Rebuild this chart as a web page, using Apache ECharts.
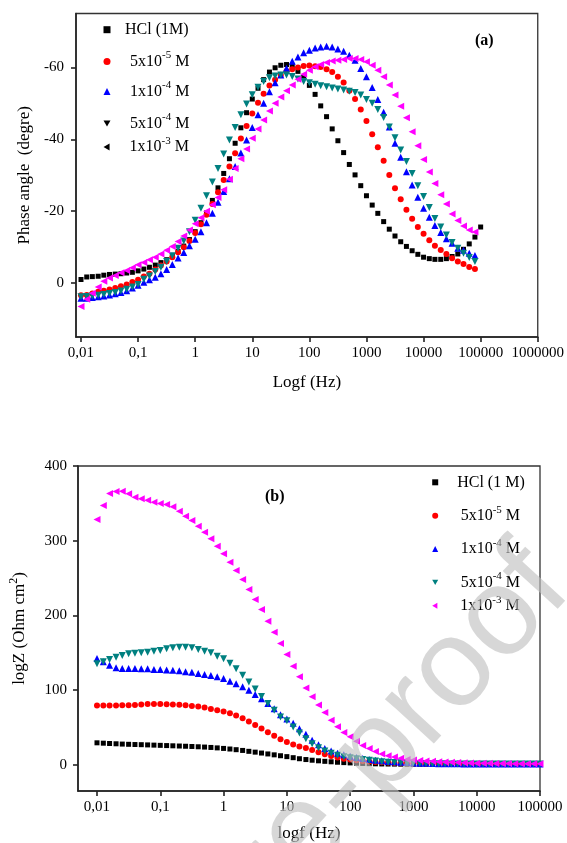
<!DOCTYPE html>
<html>
<head>
<meta charset="utf-8">
<script src="https://cdn.jsdelivr.net/npm/echarts@6/dist/echarts.min.js"></script>
<style>html,body{margin:0;padding:0;background:#fff;}#main{width:567px;height:843px;}</style>
</head>
<body>
<div id="main"></div>
<script>
// Frequencies (Hz), 10 points per decade
const freqHz = [
  0.01, 0.0126, 0.0158, 0.02, 0.0251, 0.0316, 0.0398, 0.0501, 0.0631, 0.0794,
  0.1, 0.126, 0.158, 0.2, 0.251, 0.316, 0.398, 0.501, 0.631, 0.794,
  1, 1.26, 1.58, 2, 2.51, 3.16, 3.98, 5.01, 6.31, 7.94,
  10, 12.6, 15.8, 20, 25.1, 31.6, 39.8, 50.1, 63.1, 79.4,
  100, 126, 158, 200, 251, 316, 398, 501, 631, 794,
  1000, 1260, 1580, 2000, 2510, 3160, 3980, 5010, 6310, 7940,
  10000, 12600, 15800, 20000, 25100, 31600, 39800, 50100, 63100, 79400,
  100000
];
const xTickLabels = ['0,01','0,1','1','10','100','1000','10000','100000','1000000'];
const phaseTicks = [-60, -40, -20, 0];
const zTicks = [0, 100, 200, 300, 400];

const seriesNamesTop = ['HCl (1M)', '5x10-5 M', '1x10-4 M', '5x10-4 M', '1x10-3 M'];
const seriesNamesBot = ['HCl (1 M)', '5x10-5 M', '1x10-4 M', '5x10-4 M', '1x10-3 M'];

// (a) Phase angle (degree)
const phHCl = [-1.0,-1.7,-1.8,-1.9,-2.2,-2.4,-2.5,-2.6,-2.8,-3.0,
  -3.4,-3.9,-4.4,-5.0,-5.7,-6.5,-7.6,-8.8,-10.3,-12.1,
  -14.3,-16.8,-19.5,-23.0,-26.5,-30.5,-34.6,-38.9,-43.2,-47.4,
  -51.2,-54.2,-56.6,-58.7,-59.9,-60.6,-60.8,-60.4,-58.9,-57.2,
  -55.0,-52.5,-49.3,-46.3,-42.9,-39.6,-36.3,-33.0,-30.1,-27.1,
  -24.3,-21.7,-19.4,-17.1,-15.0,-13.1,-11.5,-10.2,-9.0,-8.0,
  -7.2,-6.8,-6.6,-6.6,-6.8,-7.4,-8.1,-9.4,-10.9,-12.8,-15.6];
const ph5e5 = [3.4,3.3,2.9,2.4,2.1,1.8,1.4,0.9,0.4,-0.3,
  -0.9,-1.8,-2.6,-3.8,-4.9,-6.0,-7.2,-8.6,-10.0,-11.7,
  -13.9,-16.4,-19.0,-22.0,-25.3,-28.7,-32.4,-36.1,-40.2,-43.7,
  -47.2,-50.2,-52.7,-55.0,-56.6,-57.9,-58.9,-59.5,-60.0,-60.4,
  -60.5,-60.3,-60.1,-59.5,-58.7,-57.4,-55.8,-53.5,-51.2,-48.3,
  -45.1,-41.4,-37.8,-34.0,-30.1,-26.4,-23.3,-20.4,-17.9,-15.6,
  -13.7,-11.9,-10.4,-9.2,-8.1,-6.9,-6.0,-5.3,-4.5,-3.9];
const ph1e4 = [4.2,4.2,4.0,3.8,3.6,3.3,3.0,2.6,2.1,1.4,
  0.6,-0.2,-0.9,-1.6,-2.6,-3.8,-5.2,-7.0,-8.5,-10.4,
  -12.2,-14.3,-16.8,-19.4,-22.5,-25.5,-29.0,-32.4,-36.2,-39.8,
  -43.3,-46.8,-50.0,-53.2,-55.7,-57.9,-59.8,-61.7,-62.9,-64.1,
  -64.8,-65.4,-65.7,-65.9,-65.7,-65.1,-64.5,-63.4,-62.0,-59.7,
  -57.4,-54.4,-51.1,-47.5,-43.4,-38.9,-35.0,-31.0,-27.3,-23.9,
  -20.8,-18.3,-16.0,-14.1,-12.3,-11.1,-9.7,-9.1,-8.3,-7.7];
const ph5e4 = [3.8,3.7,3.6,3.4,3.2,2.9,2.6,2.2,1.7,1.1,
  0.4,-1.1,-2.0,-3.2,-4.4,-6.0,-7.6,-9.7,-11.7,-14.3,
  -17.5,-20.8,-24.3,-28.1,-31.9,-35.9,-39.8,-43.3,-46.8,-49.8,
  -52.4,-54.5,-56.1,-57.1,-57.6,-57.9,-57.9,-57.5,-56.8,-56.1,
  -55.7,-55.3,-54.9,-54.6,-54.3,-54.0,-53.7,-53.4,-53.0,-52.3,
  -51.1,-50.0,-48.3,-46.1,-43.4,-40.4,-37.0,-33.8,-30.5,-27.1,
  -24.1,-21.0,-18.0,-15.6,-13.4,-11.3,-9.7,-8.3,-7.1,-6.0];
const ph1e3 = [6.5,4.5,2.8,1.1,-0.5,-1.4,-2.1,-2.9,-3.5,-4.3,
  -5.1,-5.7,-6.5,-7.2,-8.1,-9.1,-10.2,-11.6,-13.1,-14.8,
  -16.5,-18.2,-20.0,-21.8,-23.8,-26.0,-28.9,-31.9,-34.6,-37.3,
  -40.3,-42.9,-45.4,-47.9,-50.0,-51.8,-53.5,-55.1,-56.7,-58.1,
  -59.2,-60.2,-60.8,-61.4,-61.8,-62.0,-62.2,-62.5,-62.5,-62.2,
  -61.6,-60.6,-59.2,-57.4,-55.1,-52.3,-49.2,-46.0,-42.1,-38.2,
  -34.4,-30.9,-27.7,-24.6,-22.0,-19.2,-17.4,-15.9,-14.8,-14.2];

// (b) log Z (Ohm cm2)
const zHCl = [29.5,29.0,28.6,28.2,27.8,27.5,27.2,27.0,26.7,26.4,
  26.1,25.8,25.5,25.2,24.9,24.6,24.2,23.8,23.3,22.7,
  22.0,21.2,20.3,19.3,18.1,17.0,15.8,14.6,13.4,12.2,
  11.0,9.6,8.2,7.1,6.2,5.4,4.7,4.1,3.5,3.0,
  2.6,2.2,1.9,1.6,1.4,1.2,1.1,1.0,0.9,0.9,
  0.8,0.8,0.8,0.7,0.7,0.7,0.7,0.6,0.6,0.6,
  0.6,0.6,0.5,0.5,0.5,0.5,0.5,0.5,0.5,0.5,0.5];
const z5e5 = [79.4,79.4,79.4,79.5,79.7,79.8,80.0,80.7,81.4,81.6,
  81.6,81.2,80.7,80.3,79.8,78.9,78.0,76.7,74.9,73.1,
  71.5,69.0,66.0,62.5,58.0,53.5,48.6,43.5,39.0,34.2,
  30.5,27.2,24.5,22.5,19.8,17.0,14.2,11.9,9.9,8.3,
  7.0,6.0,5.2,4.5,3.9,3.4,3.0,2.6,2.3,2.0,
  1.8,1.7,1.6,1.5,1.4,1.3,1.3,1.2,1.2,1.1,
  1.1,1.1,1.0,1.0,1.0,1.0,1.0,1.0,1.0,1.0,1.0];
const z1e4 = [142.3,137.9,133.4,129.8,128.9,128.9,128.9,128.5,128.5,127.6,
  127.6,127.1,126.7,125.8,124.5,124.1,122.2,120.9,119.5,117.8,
  115.5,112.0,108.4,104.4,99.9,94.1,88.4,82.1,75.0,67.0,
  61.5,55.8,48.2,41.0,33.0,27.0,22.0,18.5,15.6,13.4,
  11.4,9.8,8.5,7.3,6.3,5.4,4.6,4.0,3.4,3.0,
  2.6,2.3,2.0,1.8,1.6,1.5,1.4,1.4,1.3,1.3,
  1.2,1.2,1.2,1.1,1.1,1.1,1.1,1.0,1.0,1.0,1.0];
const z5e4 = [135.2,137.9,141.0,144.0,146.3,148.6,149.4,149.9,150.7,152.1,
  153.0,155.3,156.6,157.4,157.4,156.6,154.3,152.1,149.9,145.4,
  142.0,136.0,128.5,120.0,111.0,101.5,91.5,82.0,73.0,64.0,
  59.0,50.5,42.5,35.0,28.3,22.8,18.5,15.5,13.0,11.0,
  9.5,8.2,7.0,6.0,5.0,4.3,3.6,3.1,2.7,2.4,
  2.1,1.9,1.7,1.6,1.5,1.4,1.3,1.3,1.2,1.2,
  1.2,1.1,1.1,1.1,1.1,1.0,1.0,1.0,1.0,1.0,1.0];
const z1e3 = [328.5,347.2,363.2,366.0,366.3,362.8,358.3,356.1,354.2,351.5,
  349.8,348.5,345.4,339.5,332.8,327.0,319.4,311.4,302.5,292.6,
  282.5,271.2,260.1,248.1,234.7,221.3,207.9,192.2,177.5,162.4,
  147.7,132.0,117.8,103.0,91.0,80.0,70.0,59.7,50.9,43.2,
  37.5,31.6,25.8,22.0,18.0,14.5,12.2,10.4,8.7,7.3,
  6.5,5.9,5.3,4.7,4.2,3.8,3.4,3.1,2.8,2.5,
  2.3,2.1,2.0,1.9,1.8,1.7,1.6,1.6,1.5,1.5,1.5];

const colors = ['#000000', '#ff0000', '#0000ff', '#008080', '#ff00ff'];
const TRI_DOWN = 'path://M0,0L2,0L1,1.732Z';
const TRI_LEFT = 'path://M1.732,0L1.732,2L0,1Z';
const symbols = [
  {symbol: 'rect', size: 5},
  {symbol: 'circle', size: 6},
  {symbol: 'triangle', size: 7},
  {symbol: TRI_DOWN, size: 7},
  {symbol: TRI_LEFT, size: 7}
];
const topData = [phHCl, ph5e5, ph1e4, ph5e4, ph1e3];
const botData = [zHCl, z5e5, z1e4, z5e4, z1e3];

const SERIF = '"Liberation Serif", "Times New Roman", serif';
const pairs = (vals) => vals.map((v, i) => [freqHz[i], v]);
const xFmt = (v) => {
  const l = Math.log10(v), e = Math.round(l);
  if (Math.abs(l - e) > 0.01) return '';
  return xTickLabels[e + 2] || '';
};
const supFmt = (name) => name.replace(/10(-\d)/, '10{sup|$1}');
const richSup = {sup: {fontSize: 11, fontFamily: SERIF, color: '#000', padding: [0, 0, 12, 0]}};

const series = [];
topData.forEach((d, i) => series.push({
  type: 'scatter', name: seriesNamesTop[i], xAxisIndex: 0, yAxisIndex: 0,
  data: pairs(d), symbol: symbols[i].symbol, symbolSize: symbols[i].size,
  itemStyle: {color: colors[i], opacity: 1}
}));
botData.forEach((d, i) => series.push({
  type: 'scatter', name: seriesNamesBot[i], xAxisIndex: 1, yAxisIndex: 1,
  data: pairs(d), symbol: symbols[i].symbol, symbolSize: symbols[i].size,
  itemStyle: {color: colors[i], opacity: 1}
}));

// legends
const topLegY = [30.7, 61.5, 91.5, 123.5, 147];
const botLegY = [483.3, 515.7, 549, 582.3, 605.7];
const legends = [];
seriesNamesTop.forEach((n, i) => {
  const item = {name: n, icon: symbols[i].symbol};
  if (i >= 3) item.itemStyle = {color: '#000'};
  legends.push({
    data: [item], left: 103.5, top: topLegY[i] - (i === 0 ? 9 : 11.5), orient: 'vertical',
    padding: 0, itemWidth: 7, itemHeight: 7, selectedMode: false,
    formatter: supFmt,
    textStyle: {fontFamily: SERIF, fontSize: 16, color: '#000', padding: [0, 0, 0, i === 0 ? 9.5 : 14.5], rich: richSup}
  });
});
seriesNamesBot.forEach((n, i) => {
  legends.push({
    data: [{name: n, icon: symbols[i].symbol}],
    left: 432.2, top: botLegY[i] - (i === 0 ? 9 : 11.5), orient: 'vertical',
    padding: 0, itemWidth: 6, itemHeight: 6, selectedMode: false,
    formatter: supFmt,
    textStyle: {fontFamily: SERIF, fontSize: 16, color: '#000', padding: [0, 0, 0, i === 0 ? 14 : 17.5], rich: richSup}
  });
});

const axisLineStyle = {color: '#222', width: 1.6};
const mkX = (grid, min, max, name, gap) => ({
  type: 'log', logBase: 10, gridIndex: grid, min: min, max: max,
  axisLine: {onZero: false, lineStyle: axisLineStyle},
  axisTick: {show: true, inside: false, length: 5, lineStyle: axisLineStyle},
  minorTick: {show: false},
  axisLabel: {showMinLabel: false, formatter: xFmt, margin: 9, fontSize: 15, fontFamily: SERIF, color: '#000'},
  splitLine: {show: false},
  name: name, nameLocation: 'middle', nameGap: gap,
  nameTextStyle: {fontSize: 17, fontFamily: SERIF, color: '#000'}
});

const option = {
  animation: false,
  backgroundColor: '#fff',
  textStyle: {fontFamily: SERIF},
  grid: [
    {left: 76, right: 27, top: 13.5, height: 323.5, show: true, borderColor: '#333', borderWidth: 1.3},
    {left: 76, right: 27, top: 466, height: 325.7, show: true, borderColor: '#333', borderWidth: 1.3}
  ],
  xAxis: [
    mkX(0, Math.pow(10, -2.0875), 1e6, 'Logf (Hz)', 37),
    mkX(1, Math.pow(10, -2.3), 1e5, 'logf (Hz)', 34)
  ],
  yAxis: [
    {
      type: 'value', gridIndex: 0, inverse: true, min: -75, max: 15,
      axisLine: {onZero: false, lineStyle: axisLineStyle},
      axisTick: {show: true, length: 5, lineStyle: axisLineStyle, customValues: phaseTicks},
      axisLabel: {customValues: phaseTicks, margin: 12, fontSize: 15, fontFamily: SERIF, color: '#000'},
      splitLine: {show: false},
      name: 'Phase angle  (degre)', nameLocation: 'middle', nameGap: 43,
      nameTextStyle: {fontSize: 17, fontFamily: SERIF, color: '#000'}
    },
    {
      type: 'value', gridIndex: 1, min: -35, max: 400,
      axisLine: {onZero: false, lineStyle: axisLineStyle},
      axisTick: {show: true, length: 5, lineStyle: axisLineStyle, customValues: zTicks},
      axisLabel: {customValues: zTicks, margin: 11, fontSize: 15, fontFamily: SERIF, color: '#000'},
      splitLine: {show: false},
      name: 'logZ (Ohm cm{sup|2})', nameLocation: 'middle', nameGap: 46,
      nameTextStyle: {fontSize: 17, fontFamily: SERIF, color: '#000',
        rich: {sup: {fontSize: 12, fontFamily: SERIF, color: '#000', padding: [0, 0, 12, 0]}}}
    }
  ],
  legend: legends,
  graphic: [
    {type: 'text', left: 475, top: 33, silent: true,
      style: {text: '(a)', font: 'bold 16px "Liberation Serif"', fill: '#000'}},
    {type: 'text', left: 265, top: 489, silent: true,
      style: {text: '(b)', font: 'bold 16px "Liberation Serif"', fill: '#000'}},
    {type: 'text', x: 222, y: 924, rotation: 47.5 * Math.PI / 180, silent: true, z: 100,
      style: {text: 'Journal Pre-proof', font: '125px "Liberation Sans"', fill: 'rgba(190,190,190,0.62)',
        textAlign: 'center', textVerticalAlign: 'middle'}}
  ],
  series: series
};

const chart = echarts.init(document.getElementById('main'), null, {renderer: 'canvas'});
chart.setOption(option);
</script>
</body>
</html>
